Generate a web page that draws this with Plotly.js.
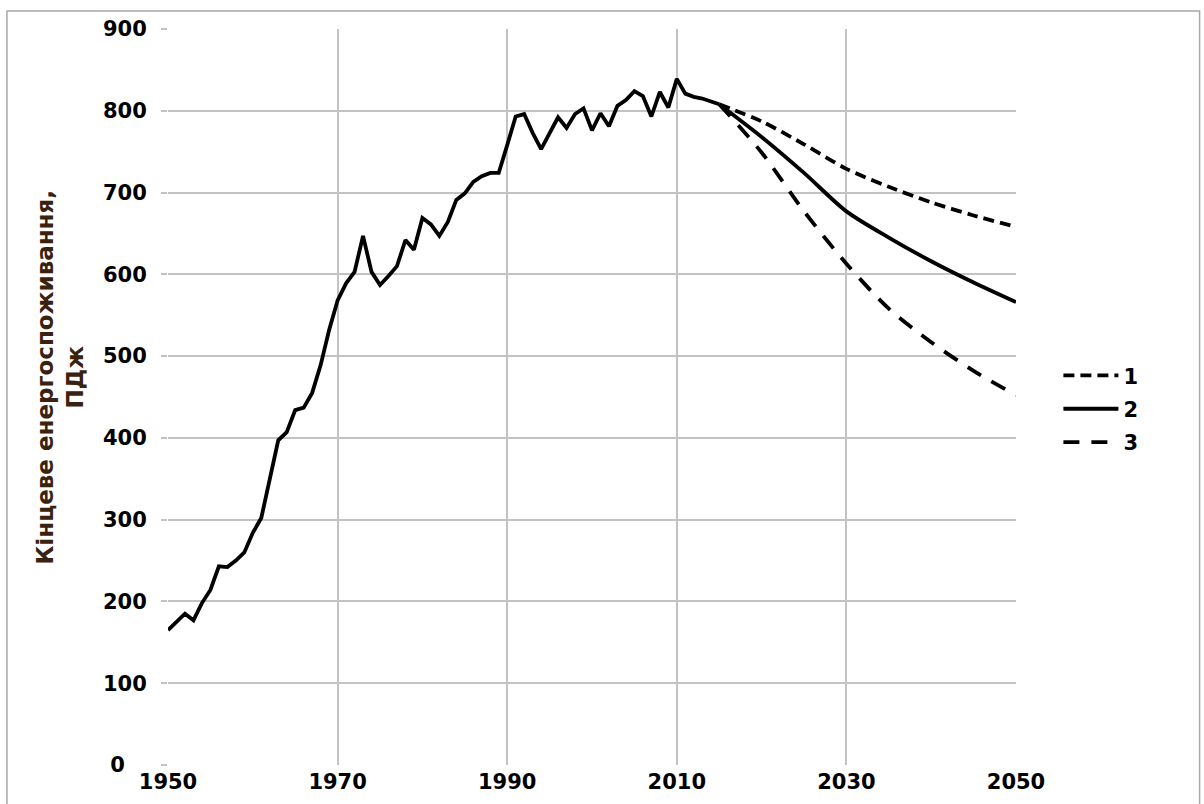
<!DOCTYPE html>
<html>
<head>
<meta charset="utf-8">
<script src="https://cdn.plot.ly/plotly-3.0.1.min.js"></script>
<style>html,body{margin:0;padding:0;background:#fff;}#chart{width:1204px;height:804px;}</style>
</head>
<body>
<div id="chart"></div>
<script>
// Historical final energy consumption, PJ
const histYears = [1950,1951,1952,1953,1954,1955,1956,1957,1958,1959,1960,1961,1962,1963,1964,1965,1966,1967,1968,1969,1970,1971,1972,1973,1974,1975,1976,1977,1978,1979,1980,1981,1982,1983,1984,1985,1986,1987,1988,1989,1990,1991,1992,1993,1994,1995,1996,1997,1998,1999,2000,2001,2002,2003,2004,2005,2006,2007,2008,2009,2010,2011,2012,2013,2014,2015];
const histValues = [165,175,185,177,198,214,243,242,250,260,284,302,351,397,407,434,437,455,489,532,568,589,603,647,603,587,598,610,642,630,669,661,647,664,691,699,713,720,724,724,758,793,796,773,753,773,792,779,796,803,776,797,781,806,813,824,818,793,823,804,839,821,817,815,811,808];

// Scenario projections
const projYears = [2015,2020,2025,2030,2035,2040,2045,2050];
const scenario1 = [808,787,759,729,707,688,672,658];
const scenario2 = [808,768,724,677,645,616,590,566];
const scenario3 = [808,749,677,613,558,517,482,452];
const legendLabels = ['1','2','3'];

// y tick labels (the "0" label sits shifted left, as in the reference)
const yTickVals = [0,100,200,300,400,500,600,700,800,900];
const yTickText = ['0\u00a0\u00a0\u00a0','100','200','300','400','500','600','700','800','900'];
const xTickVals = [1950,1970,1990,2010,2030,2050];
const xTickText = ['1950','1970','1990','2010','2030','2050'];

const lineW = 3.8;
const traces = [
  {x: histYears, y: histValues, type:'scatter', mode:'lines', line:{color:'#000', width:lineW}, showlegend:false},
  {x: projYears, y: scenario1, type:'scatter', mode:'lines', name: legendLabels[0], legendgroup:'a',
   line:{color:'#000', width:lineW, dash:'11px,6px', shape:'spline', smoothing:0.8}},
  {x: projYears, y: scenario2, type:'scatter', mode:'lines', name: legendLabels[1], legendgroup:'b',
   line:{color:'#000', width:lineW, shape:'spline', smoothing:0.8}},
  {x: projYears, y: scenario3, type:'scatter', mode:'lines', name: legendLabels[2], legendgroup:'c',
   line:{color:'#000', width:lineW, dash:'16px,12px', shape:'spline', smoothing:0.8}}
];

const tickFont = {family:'DejaVu Sans, Verdana, sans-serif', size:21, color:'#000', weight:'bold'};
const gridC = '#c3c3c3';

const layout = {
  width:1204, height:804,
  margin:{l:168, r:188, t:29, b:39},
  paper_bgcolor:'#fff', plot_bgcolor:'#fff',
  showlegend:true,
  legend:{x:1.05, y:0.484, xanchor:'left', yanchor:'middle', font:{family:'DejaVu Sans, sans-serif', size:21, color:'#000', weight:'bold'},
          itemwidth:55, tracegroupgap:3, bgcolor:'rgba(0,0,0,0)'},
  xaxis:{range:[1950,2050], tickvals:xTickVals, ticktext:xTickText,
         showgrid:true, gridcolor:gridC, gridwidth:2, zeroline:false, showline:false,
         ticks:'', tickfont:tickFont, ticklabelstandoff:2, fixedrange:true},
  yaxis:{range:[0,900], tickvals:yTickVals, ticktext:yTickText,
         showgrid:true, gridcolor:gridC, gridwidth:2, zeroline:false, showline:false,
         ticks:'outside', ticklen:6, tickwidth:2, tickcolor:gridC, tickfont:tickFont, ticklabelstandoff:10, fixedrange:true},
  annotations:[{
    xref:'paper', yref:'paper', x:-0.127, y:0.527, xanchor:'center', yanchor:'middle',
    text:'Кінцеве енергоспоживання,<br>ПДж', textangle:-90, showarrow:false,
    font:{family:'DejaVu Sans, sans-serif', size:23, color:'#3a220e', weight:'bold'}
  }],
  shapes:[{type:'rect', xref:'paper', yref:'paper', x0:-0.1899, x1:1.2165, y0:-0.06, y1:1.0245,
           line:{color:'#a8a8a8', width:1.5}, fillcolor:'rgba(0,0,0,0)', layer:'below'}]
};

Plotly.newPlot('chart', traces, layout, {displayModeBar:false, staticPlot:true});
</script>
</body>
</html>
